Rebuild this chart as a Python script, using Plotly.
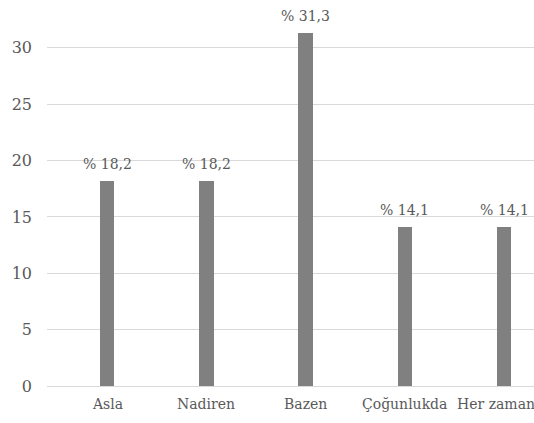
import plotly.graph_objects as go

categories = ["Asla", "Nadiren", "Bazen", "Çoğunlukda", "Her zaman"]
values = [18.2, 18.2, 31.3, 14.1, 14.1]
y_ticks = [0, 5, 10, 15, 20, 25, 30]

labels = ["% " + f"{v:.1f}".replace(".", ",") for v in values]

SERIF = "DejaVu Serif"
GREY_TXT = "#595959"

xs = list(range(len(categories)))

fig = go.Figure(go.Bar(
    x=xs,
    y=values,
    cliponaxis=False,
    marker=dict(color="#808080", line=dict(width=0)),
    width=0.145,
    hoverinfo="skip",
))

# value labels above the bars
for i, lab in enumerate(labels):
    fig.add_annotation(
        x=xs[i], y=values[i], xref="x", yref="y",
        text=lab, showarrow=False,
        yanchor="bottom", yshift=7,
        font=dict(family=SERIF, size=14, color=GREY_TXT),
    )

# category labels as annotations so the last one can be nudged inside the frame
for i, cat in enumerate(categories):
    fig.add_annotation(
        x=xs[i], y=0, xref="x", yref="y",
        text=cat, showarrow=False,
        yanchor="top", yshift=-8,
        xshift=-8 if i == len(categories) - 1 else 0,
        font=dict(family=SERIF, size=14, color=GREY_TXT),
    )

fig.update_layout(
    width=534, height=423,
    margin=dict(l=47, r=0, t=14, b=37, autoexpand=False),
    paper_bgcolor="white", plot_bgcolor="white",
    showlegend=False,
    font=dict(family=SERIF, size=14, color=GREY_TXT),
    xaxis=dict(
        range=[-0.605, 4.30],
        automargin=False,
        tickmode="array",
        tickvals=xs,
        showticklabels=False,
        showgrid=False, zeroline=False, showline=False,
        ticks="",
    ),
    yaxis=dict(
        range=[0, 33],
        automargin=False,
        tickmode="array",
        tickvals=y_ticks,
        showgrid=True, gridcolor="#d9d9d9", gridwidth=1,
        zeroline=True, zerolinecolor="#d9d9d9", zerolinewidth=1,
        showline=False, ticks="", ticklabelstandoff=14,
        tickfont=dict(family=SERIF, size=16, color=GREY_TXT),
    ),
    bargap=0,
)

fig.write_html(
    "out.html",
    config={"displayModeBar": False},
    post_script="document.body.style.margin='0';document.body.style.overflow='hidden';",
)
